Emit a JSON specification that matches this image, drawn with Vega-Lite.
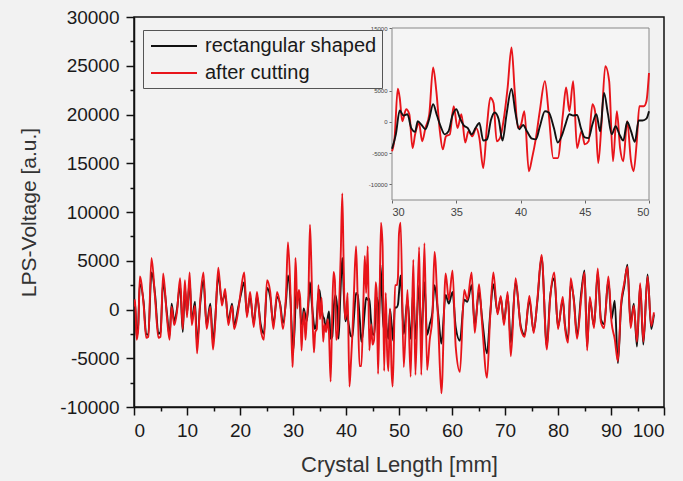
{
  "$schema": "https://vega.github.io/schema/vega-lite/v6.json",
  "autosize": {"type": "none"},
  "width": 530,
  "height": 390,
  "padding": {"left": 134, "top": 17, "right": 19, "bottom": 74},
  "background": "#f2f2f2",
  "config": {
    "view": {"stroke": "#111", "strokeWidth": 1.5},
    "font": "Liberation Sans",
    "axis": {"grid": false, "labelFont": "Liberation Sans", "titleFont": "Liberation Sans"}
  },
  "datasets": {
    "lps": [
      {"x":0.0,"s":"rectangular shaped","v":300},{"x":0.2,"s":"rectangular shaped","v":700},{"x":0.5,"s":"rectangular shaped","v":-2800},{"x":0.8,"s":"rectangular shaped","v":-1500},{"x":1.1,"s":"rectangular shaped","v":2600},{"x":1.8,"s":"rectangular shaped","v":800},{"x":2.3,"s":"rectangular shaped","v":-2500},{"x":2.7,"s":"rectangular shaped","v":-2600},{"x":3.3,"s":"rectangular shaped","v":3800},{"x":4.0,"s":"rectangular shaped","v":1400},{"x":4.6,"s":"rectangular shaped","v":-2500},{"x":5.0,"s":"rectangular shaped","v":-2300},{"x":5.5,"s":"rectangular shaped","v":2800},{"x":6.2,"s":"rectangular shaped","v":-300},{"x":6.7,"s":"rectangular shaped","v":-2700},{"x":7.1,"s":"rectangular shaped","v":600},{"x":7.6,"s":"rectangular shaped","v":-1200},{"x":8.1,"s":"rectangular shaped","v":0},{"x":8.7,"s":"rectangular shaped","v":2500},{"x":9.2,"s":"rectangular shaped","v":-2300},{"x":9.6,"s":"rectangular shaped","v":2200},{"x":10.0,"s":"rectangular shaped","v":-400},{"x":10.5,"s":"rectangular shaped","v":3000},{"x":10.9,"s":"rectangular shaped","v":-1200},{"x":11.5,"s":"rectangular shaped","v":800},{"x":11.9,"s":"rectangular shaped","v":-3500},{"x":12.5,"s":"rectangular shaped","v":600},{"x":13.1,"s":"rectangular shaped","v":3000},{"x":13.7,"s":"rectangular shaped","v":-1600},{"x":14.4,"s":"rectangular shaped","v":600},{"x":14.9,"s":"rectangular shaped","v":-3300},{"x":15.3,"s":"rectangular shaped","v":-1200},{"x":15.9,"s":"rectangular shaped","v":3500},{"x":16.6,"s":"rectangular shaped","v":800},{"x":17.2,"s":"rectangular shaped","v":1600},{"x":17.8,"s":"rectangular shaped","v":-1200},{"x":18.5,"s":"rectangular shaped","v":600},{"x":18.9,"s":"rectangular shaped","v":-1600},{"x":19.7,"s":"rectangular shaped","v":300},{"x":20.2,"s":"rectangular shaped","v":1600},{"x":20.8,"s":"rectangular shaped","v":2800},{"x":21.3,"s":"rectangular shaped","v":-500},{"x":21.9,"s":"rectangular shaped","v":1300},{"x":22.6,"s":"rectangular shaped","v":-1400},{"x":23.2,"s":"rectangular shaped","v":1400},{"x":23.9,"s":"rectangular shaped","v":-1500},{"x":24.5,"s":"rectangular shaped","v":-2500},{"x":25.1,"s":"rectangular shaped","v":2200},{"x":25.7,"s":"rectangular shaped","v":1300},{"x":26.3,"s":"rectangular shaped","v":-1500},{"x":27.0,"s":"rectangular shaped","v":1300},{"x":27.6,"s":"rectangular shaped","v":500},{"x":28.1,"s":"rectangular shaped","v":-1400},{"x":28.7,"s":"rectangular shaped","v":1000},{"x":29.05,"s":"rectangular shaped","v":3500},{"x":29.5,"s":"rectangular shaped","v":1200},{"x":29.9,"s":"rectangular shaped","v":-3500},
      {"x":30.0,"s":"rectangular shaped","v":-4300},{"x":30.3,"s":"rectangular shaped","v":-2000},{"x":30.6,"s":"rectangular shaped","v":1800},{"x":30.9,"s":"rectangular shaped","v":1000},{"x":31.2,"s":"rectangular shaped","v":1200},{"x":31.5,"s":"rectangular shaped","v":-1000},{"x":31.8,"s":"rectangular shaped","v":-1600},{"x":32.0,"s":"rectangular shaped","v":100},{"x":32.3,"s":"rectangular shaped","v":-500},{"x":32.6,"s":"rectangular shaped","v":-1200},{"x":32.9,"s":"rectangular shaped","v":500},{"x":33.2,"s":"rectangular shaped","v":2800},{"x":33.5,"s":"rectangular shaped","v":1000},{"x":33.8,"s":"rectangular shaped","v":-800},{"x":34.1,"s":"rectangular shaped","v":-2000},{"x":34.4,"s":"rectangular shaped","v":-1500},{"x":34.7,"s":"rectangular shaped","v":1000},{"x":35.0,"s":"rectangular shaped","v":2000},{"x":35.3,"s":"rectangular shaped","v":500},{"x":35.6,"s":"rectangular shaped","v":-600},{"x":35.9,"s":"rectangular shaped","v":-1000},{"x":36.2,"s":"rectangular shaped","v":-2000},{"x":36.5,"s":"rectangular shaped","v":-1000},{"x":36.8,"s":"rectangular shaped","v":-200},{"x":37.1,"s":"rectangular shaped","v":-3000},{"x":37.4,"s":"rectangular shaped","v":-2800},{"x":37.7,"s":"rectangular shaped","v":300},{"x":38.0,"s":"rectangular shaped","v":1500},{"x":38.3,"s":"rectangular shaped","v":400},{"x":38.6,"s":"rectangular shaped","v":-3000},{"x":38.9,"s":"rectangular shaped","v":1000},{"x":39.3,"s":"rectangular shaped","v":5300},{"x":39.6,"s":"rectangular shaped","v":1500},{"x":39.9,"s":"rectangular shaped","v":-1200},{"x":40.2,"s":"rectangular shaped","v":-500},{"x":40.5,"s":"rectangular shaped","v":-1500},{"x":40.9,"s":"rectangular shaped","v":-2700},{"x":41.2,"s":"rectangular shaped","v":-2800},{"x":41.5,"s":"rectangular shaped","v":-800},{"x":41.9,"s":"rectangular shaped","v":1700},{"x":42.2,"s":"rectangular shaped","v":1500},{"x":42.6,"s":"rectangular shaped","v":-1000},{"x":42.9,"s":"rectangular shaped","v":-3300},{"x":43.2,"s":"rectangular shaped","v":-2300},{"x":43.5,"s":"rectangular shaped","v":-400},{"x":43.8,"s":"rectangular shaped","v":1200},{"x":44.1,"s":"rectangular shaped","v":1000},{"x":44.4,"s":"rectangular shaped","v":1100},{"x":44.7,"s":"rectangular shaped","v":-1000},{"x":45.0,"s":"rectangular shaped","v":-2500},{"x":45.3,"s":"rectangular shaped","v":-2600},{"x":45.6,"s":"rectangular shaped","v":-400},{"x":45.9,"s":"rectangular shaped","v":1200},{"x":46.2,"s":"rectangular shaped","v":-1500},{"x":46.5,"s":"rectangular shaped","v":4600},{"x":46.8,"s":"rectangular shaped","v":1300},{"x":47.1,"s":"rectangular shaped","v":-2000},{"x":47.4,"s":"rectangular shaped","v":-700},{"x":47.7,"s":"rectangular shaped","v":-2000},{"x":48.0,"s":"rectangular shaped","v":-3000},{"x":48.3,"s":"rectangular shaped","v":0},{"x":48.6,"s":"rectangular shaped","v":-1500},{"x":48.9,"s":"rectangular shaped","v":-3200},{"x":49.2,"s":"rectangular shaped","v":200},{"x":49.5,"s":"rectangular shaped","v":200},{"x":49.8,"s":"rectangular shaped","v":500},{"x":50.0,"s":"rectangular shaped","v":1700},
      {"x":50.3,"s":"rectangular shaped","v":3500},{"x":50.9,"s":"rectangular shaped","v":-2500},{"x":51.6,"s":"rectangular shaped","v":1000},{"x":52.2,"s":"rectangular shaped","v":-3000},{"x":52.7,"s":"rectangular shaped","v":2000},{"x":53.1,"s":"rectangular shaped","v":-3000},{"x":53.8,"s":"rectangular shaped","v":2500},{"x":54.2,"s":"rectangular shaped","v":-2800},{"x":54.8,"s":"rectangular shaped","v":2800},{"x":55.3,"s":"rectangular shaped","v":-2600},{"x":55.8,"s":"rectangular shaped","v":-1500},{"x":56.3,"s":"rectangular shaped","v":-300},{"x":56.7,"s":"rectangular shaped","v":2500},{"x":57.4,"s":"rectangular shaped","v":-500},{"x":58.0,"s":"rectangular shaped","v":-3500},{"x":58.8,"s":"rectangular shaped","v":1500},{"x":59.4,"s":"rectangular shaped","v":600},{"x":60.1,"s":"rectangular shaped","v":1800},{"x":60.7,"s":"rectangular shaped","v":-1800},{"x":61.5,"s":"rectangular shaped","v":-3200},{"x":62.3,"s":"rectangular shaped","v":1000},{"x":62.9,"s":"rectangular shaped","v":800},{"x":63.7,"s":"rectangular shaped","v":2500},{"x":64.3,"s":"rectangular shaped","v":-1600},{"x":65.1,"s":"rectangular shaped","v":1800},{"x":65.7,"s":"rectangular shaped","v":-1000},{"x":66.6,"s":"rectangular shaped","v":-4500},{"x":67.2,"s":"rectangular shaped","v":-500},{"x":67.8,"s":"rectangular shaped","v":2600},{"x":68.6,"s":"rectangular shaped","v":-300},{"x":69.2,"s":"rectangular shaped","v":1200},{"x":69.8,"s":"rectangular shaped","v":-1200},{"x":70.5,"s":"rectangular shaped","v":1500},{"x":71.1,"s":"rectangular shaped","v":-3400},{"x":72.0,"s":"rectangular shaped","v":2800},{"x":73.0,"s":"rectangular shaped","v":-1800},{"x":73.7,"s":"rectangular shaped","v":-2600},{"x":74.6,"s":"rectangular shaped","v":1000},{"x":75.4,"s":"rectangular shaped","v":-2200},{"x":76.1,"s":"rectangular shaped","v":800},{"x":76.9,"s":"rectangular shaped","v":5400},{"x":77.9,"s":"rectangular shaped","v":-3800},{"x":78.5,"s":"rectangular shaped","v":1200},{"x":79.3,"s":"rectangular shaped","v":3200},{"x":80.0,"s":"rectangular shaped","v":-1800},{"x":80.9,"s":"rectangular shaped","v":1000},{"x":81.3,"s":"rectangular shaped","v":-1500},{"x":81.9,"s":"rectangular shaped","v":-3000},{"x":82.4,"s":"rectangular shaped","v":2600},{"x":83.0,"s":"rectangular shaped","v":1000},{"x":83.6,"s":"rectangular shaped","v":-2700},{"x":84.4,"s":"rectangular shaped","v":1800},{"x":85.0,"s":"rectangular shaped","v":4000},{"x":85.5,"s":"rectangular shaped","v":-3800},{"x":86.0,"s":"rectangular shaped","v":1000},{"x":86.8,"s":"rectangular shaped","v":-1700},{"x":87.5,"s":"rectangular shaped","v":3800},{"x":88.1,"s":"rectangular shaped","v":-1000},{"x":88.7,"s":"rectangular shaped","v":-1500},{"x":89.5,"s":"rectangular shaped","v":3000},{"x":90.1,"s":"rectangular shaped","v":-1000},{"x":90.7,"s":"rectangular shaped","v":900},{"x":91.3,"s":"rectangular shaped","v":-5500},{"x":91.9,"s":"rectangular shaped","v":300},{"x":92.5,"s":"rectangular shaped","v":2400},{"x":93.1,"s":"rectangular shaped","v":4600},{"x":93.7,"s":"rectangular shaped","v":-1500},{"x":94.3,"s":"rectangular shaped","v":600},{"x":94.9,"s":"rectangular shaped","v":-3800},{"x":95.5,"s":"rectangular shaped","v":2500},{"x":96.1,"s":"rectangular shaped","v":-3600},{"x":96.9,"s":"rectangular shaped","v":3600},{"x":97.6,"s":"rectangular shaped","v":-2000},{"x":98.1,"s":"rectangular shaped","v":-500},
      {"x":0.0,"s":"after cutting","v":300},{"x":0.2,"s":"after cutting","v":1000},{"x":0.5,"s":"after cutting","v":-3100},{"x":0.8,"s":"after cutting","v":-2000},{"x":1.1,"s":"after cutting","v":3400},{"x":1.8,"s":"after cutting","v":600},{"x":2.3,"s":"after cutting","v":-2900},{"x":2.7,"s":"after cutting","v":-2800},{"x":3.3,"s":"after cutting","v":5300},{"x":4.0,"s":"after cutting","v":1000},{"x":4.6,"s":"after cutting","v":-2900},{"x":5.0,"s":"after cutting","v":-2800},{"x":5.5,"s":"after cutting","v":3700},{"x":6.2,"s":"after cutting","v":-700},{"x":6.7,"s":"after cutting","v":-3100},{"x":7.1,"s":"after cutting","v":300},{"x":7.6,"s":"after cutting","v":-1600},{"x":8.1,"s":"after cutting","v":-300},{"x":8.7,"s":"after cutting","v":3200},{"x":9.2,"s":"after cutting","v":-2000},{"x":9.6,"s":"after cutting","v":3000},{"x":10.0,"s":"after cutting","v":-800},{"x":10.5,"s":"after cutting","v":3800},{"x":10.9,"s":"after cutting","v":-1600},{"x":11.5,"s":"after cutting","v":400},{"x":11.9,"s":"after cutting","v":-4500},{"x":12.5,"s":"after cutting","v":1000},{"x":13.1,"s":"after cutting","v":3800},{"x":13.7,"s":"after cutting","v":-2000},{"x":14.4,"s":"after cutting","v":300},{"x":14.9,"s":"after cutting","v":-4100},{"x":15.3,"s":"after cutting","v":-1600},{"x":15.9,"s":"after cutting","v":4300},{"x":16.6,"s":"after cutting","v":400},{"x":17.2,"s":"after cutting","v":2100},{"x":17.8,"s":"after cutting","v":-1600},{"x":18.5,"s":"after cutting","v":400},{"x":18.9,"s":"after cutting","v":-2000},{"x":19.7,"s":"after cutting","v":0},{"x":20.2,"s":"after cutting","v":2100},{"x":20.8,"s":"after cutting","v":3800},{"x":21.3,"s":"after cutting","v":-800},{"x":21.9,"s":"after cutting","v":1800},{"x":22.6,"s":"after cutting","v":-1800},{"x":23.2,"s":"after cutting","v":1800},{"x":23.9,"s":"after cutting","v":-2000},{"x":24.5,"s":"after cutting","v":-3100},{"x":25.1,"s":"after cutting","v":3000},{"x":25.7,"s":"after cutting","v":1800},{"x":26.3,"s":"after cutting","v":-2000},{"x":27.0,"s":"after cutting","v":1800},{"x":27.6,"s":"after cutting","v":300},{"x":28.1,"s":"after cutting","v":-2000},{"x":28.7,"s":"after cutting","v":1800},{"x":29.05,"s":"after cutting","v":6900},{"x":29.5,"s":"after cutting","v":2100},{"x":29.9,"s":"after cutting","v":-5900},
      {"x":30.0,"s":"after cutting","v":-4700},{"x":30.2,"s":"after cutting","v":-2600},{"x":30.45,"s":"after cutting","v":5300},{"x":30.6,"s":"after cutting","v":3850},{"x":30.8,"s":"after cutting","v":100},{"x":31.1,"s":"after cutting","v":2000},{"x":31.35,"s":"after cutting","v":1200},{"x":31.6,"s":"after cutting","v":-4200},{"x":31.8,"s":"after cutting","v":-2000},{"x":32.1,"s":"after cutting","v":-200},{"x":32.35,"s":"after cutting","v":-3100},{"x":32.6,"s":"after cutting","v":-1000},{"x":32.9,"s":"after cutting","v":1200},{"x":33.2,"s":"after cutting","v":8700},{"x":33.45,"s":"after cutting","v":4900},{"x":33.7,"s":"after cutting","v":-1000},{"x":33.95,"s":"after cutting","v":-4400},{"x":34.2,"s":"after cutting","v":-2300},{"x":34.5,"s":"after cutting","v":-2000},{"x":34.8,"s":"after cutting","v":2500},{"x":35.1,"s":"after cutting","v":-1000},{"x":35.4,"s":"after cutting","v":1200},{"x":35.7,"s":"after cutting","v":-3300},{"x":35.95,"s":"after cutting","v":-1500},{"x":36.25,"s":"after cutting","v":-2300},{"x":36.55,"s":"after cutting","v":-1000},{"x":36.8,"s":"after cutting","v":-2600},{"x":37.1,"s":"after cutting","v":-7400},{"x":37.4,"s":"after cutting","v":-400},{"x":37.65,"s":"after cutting","v":3850},{"x":37.9,"s":"after cutting","v":3000},{"x":38.15,"s":"after cutting","v":-3100},{"x":38.4,"s":"after cutting","v":-2600},{"x":38.75,"s":"after cutting","v":1200},{"x":39.0,"s":"after cutting","v":5500},{"x":39.3,"s":"after cutting","v":11900},{"x":39.55,"s":"after cutting","v":4900},{"x":39.8,"s":"after cutting","v":-1000},{"x":40.05,"s":"after cutting","v":-400},{"x":40.3,"s":"after cutting","v":1700},{"x":40.65,"s":"after cutting","v":-7900},{"x":40.9,"s":"after cutting","v":-5800},{"x":41.2,"s":"after cutting","v":-2600},{"x":41.5,"s":"after cutting","v":1700},{"x":41.9,"s":"after cutting","v":6500},{"x":42.2,"s":"after cutting","v":1200},{"x":42.55,"s":"after cutting","v":-5800},{"x":42.9,"s":"after cutting","v":-5800},{"x":43.3,"s":"after cutting","v":1200},{"x":43.55,"s":"after cutting","v":5500},{"x":43.8,"s":"after cutting","v":1700},{"x":44.1,"s":"after cutting","v":6500},{"x":44.4,"s":"after cutting","v":-4200},{"x":44.75,"s":"after cutting","v":-1500},{"x":45.0,"s":"after cutting","v":-3600},{"x":45.3,"s":"after cutting","v":-3100},{"x":45.6,"s":"after cutting","v":2800},{"x":45.8,"s":"after cutting","v":1700},{"x":46.05,"s":"after cutting","v":-6600},{"x":46.3,"s":"after cutting","v":-400},{"x":46.6,"s":"after cutting","v":8900},{"x":46.9,"s":"after cutting","v":6500},{"x":47.2,"s":"after cutting","v":-6300},{"x":47.5,"s":"after cutting","v":1700},{"x":47.75,"s":"after cutting","v":-4200},{"x":48.0,"s":"after cutting","v":-6300},{"x":48.3,"s":"after cutting","v":100},{"x":48.6,"s":"after cutting","v":-6300},{"x":48.8,"s":"after cutting","v":-7900},{"x":49.05,"s":"after cutting","v":-3100},{"x":49.25,"s":"after cutting","v":2500},{"x":49.6,"s":"after cutting","v":2500},{"x":49.8,"s":"after cutting","v":3300},{"x":50.0,"s":"after cutting","v":7800},
      {"x":50.3,"s":"after cutting","v":8900},{"x":50.9,"s":"after cutting","v":-5900},{"x":51.6,"s":"after cutting","v":2000},{"x":52.2,"s":"after cutting","v":-6900},{"x":52.7,"s":"after cutting","v":5100},{"x":53.1,"s":"after cutting","v":-6700},{"x":53.8,"s":"after cutting","v":6400},{"x":54.2,"s":"after cutting","v":-6700},{"x":54.8,"s":"after cutting","v":6800},{"x":55.3,"s":"after cutting","v":-6200},{"x":55.8,"s":"after cutting","v":-3100},{"x":56.3,"s":"after cutting","v":-800},{"x":56.7,"s":"after cutting","v":5900},{"x":57.4,"s":"after cutting","v":-1500},{"x":58.0,"s":"after cutting","v":-8600},{"x":58.8,"s":"after cutting","v":3700},{"x":59.4,"s":"after cutting","v":1000},{"x":60.1,"s":"after cutting","v":4000},{"x":60.7,"s":"after cutting","v":-3800},{"x":61.5,"s":"after cutting","v":-6400},{"x":62.3,"s":"after cutting","v":2000},{"x":62.9,"s":"after cutting","v":1000},{"x":63.7,"s":"after cutting","v":3800},{"x":64.3,"s":"after cutting","v":-2400},{"x":65.1,"s":"after cutting","v":2600},{"x":65.7,"s":"after cutting","v":-1600},{"x":66.6,"s":"after cutting","v":-7000},{"x":67.2,"s":"after cutting","v":-800},{"x":67.8,"s":"after cutting","v":3800},{"x":68.6,"s":"after cutting","v":-500},{"x":69.2,"s":"after cutting","v":1400},{"x":69.8,"s":"after cutting","v":-1600},{"x":70.5,"s":"after cutting","v":1800},{"x":71.1,"s":"after cutting","v":-4800},{"x":72.0,"s":"after cutting","v":3200},{"x":73.0,"s":"after cutting","v":-2000},{"x":73.7,"s":"after cutting","v":-2800},{"x":74.6,"s":"after cutting","v":1400},{"x":75.4,"s":"after cutting","v":-2400},{"x":76.1,"s":"after cutting","v":1000},{"x":76.9,"s":"after cutting","v":5600},{"x":77.9,"s":"after cutting","v":-4100},{"x":78.5,"s":"after cutting","v":1000},{"x":79.3,"s":"after cutting","v":3800},{"x":80.0,"s":"after cutting","v":-2000},{"x":80.9,"s":"after cutting","v":1300},{"x":81.3,"s":"after cutting","v":-1700},{"x":81.9,"s":"after cutting","v":-3400},{"x":82.4,"s":"after cutting","v":3200},{"x":83.0,"s":"after cutting","v":800},{"x":83.6,"s":"after cutting","v":-3000},{"x":84.4,"s":"after cutting","v":1300},{"x":85.0,"s":"after cutting","v":3800},{"x":85.5,"s":"after cutting","v":-4200},{"x":86.0,"s":"after cutting","v":1300},{"x":86.8,"s":"after cutting","v":-1900},{"x":87.5,"s":"after cutting","v":4200},{"x":88.1,"s":"after cutting","v":-1300},{"x":88.7,"s":"after cutting","v":-1900},{"x":89.5,"s":"after cutting","v":3400},{"x":90.1,"s":"after cutting","v":-1300},{"x":90.7,"s":"after cutting","v":-3000},{"x":91.3,"s":"after cutting","v":-5300},{"x":91.9,"s":"after cutting","v":600},{"x":92.5,"s":"after cutting","v":2700},{"x":93.1,"s":"after cutting","v":4400},{"x":93.7,"s":"after cutting","v":-1900},{"x":94.3,"s":"after cutting","v":400},{"x":94.9,"s":"after cutting","v":-3300},{"x":95.5,"s":"after cutting","v":2700},{"x":96.1,"s":"after cutting","v":-3300},{"x":96.9,"s":"after cutting","v":3400},{"x":97.6,"s":"after cutting","v":-1700},{"x":98.1,"s":"after cutting","v":-300}
    ],
    "box": [{}]
  },
  "layer": [
    {
      "data": {"name": "lps"},
      "mark": {"type": "line", "strokeWidth": 1.9, "clip": true, "interpolate": "monotone"},
      "encoding": {
        "x": {"field": "x", "type": "quantitative", "scale": {"domain": [0, 100], "nice": false},
          "axis": {"orient": "bottom", "title": "Crystal Length [mm]", "values": [0,5,10,15,20,25,30,35,40,45,50,55,60,65,70,75,80,85,90,95,100],
            "labelExpr": "datum.value % 10 === 0 ? '' + datum.value : ''", "labelFontSize": 19, "labelColor": "#1a1a1a", "labelPadding": 6,
            "tickSize": {"condition": {"test": "datum.value % 10 === 0", "value": 8}, "value": 4},
            "tickColor": "#111", "tickWidth": 1.5, "domainColor": "#111", "domainWidth": 1.5,
            "titleFontSize": 22, "titleFontWeight": "normal", "titleColor": "#333", "titlePadding": 14}},
        "y": {"field": "v", "type": "quantitative", "scale": {"domain": [-10000, 30000], "nice": false},
          "axis": {"orient": "left", "title": "LPS-Voltage [a.u.]", "values": [-10000,-7500,-5000,-2500,0,2500,5000,7500,10000,12500,15000,17500,20000,22500,25000,27500,30000],
            "labelExpr": "datum.value % 5000 === 0 ? '' + datum.value : ''", "labelFontSize": 19, "labelColor": "#1a1a1a", "labelPadding": 7,
            "tickSize": {"condition": {"test": "datum.value % 5000 === 0", "value": 8}, "value": 4},
            "tickColor": "#111", "tickWidth": 1.5, "domainColor": "#111", "domainWidth": 1.5,
            "titleFontSize": 21, "titleFontWeight": "normal", "titleColor": "#333", "titlePadding": 20}},
        "color": {"field": "s", "type": "nominal",
          "scale": {"domain": ["rectangular shaped", "after cutting"], "range": ["#111111", "#e8141a"]},
          "legend": {"title": null, "orient": "none", "legendX": 9, "legendY": 13, "symbolType": "M-2.3,0H2.3", "symbolSize": 400, "symbolStrokeWidth": 2,
            "symbolOffset": 15, "labelFontSize": 20, "labelColor": "#1a1a1a", "labelOffset": 20, "labelLimit": 400, "rowPadding": 6, "padding": 5,
            "strokeColor": "#555", "fillColor": "#f2f2f2"}}
      }
    },
    {
      "layer": [
        {
          "data": {"name": "box"},
          "mark": {"type": "rect", "fill": "#f5f5f5", "stroke": "#888", "strokeWidth": 1},
          "encoding": {
            "x": {"datum": 30, "type": "quantitative",
              "scale": {"domain": [30, 50], "nice": false, "range": [258, 515]},
              "axis": {"orient": "bottom", "offset": -207, "title": null, "values": [30,35,40,45,50], "labelFontSize": 11, "labelColor": "#444",
                "domain": false, "tickSize": 3, "tickColor": "#666", "labelPadding": 3}},
            "x2": {"datum": 50},
            "y": {"datum": -12500, "type": "quantitative",
              "scale": {"domain": [-12500, 15000], "nice": false, "range": [183, 11]},
              "axis": {"orient": "left", "offset": -258, "title": null, "values": [-10000,-5000,0,5000,15000], "labelExpr": "'' + datum.value", "labelFontSize": 6, "labelColor": "#444",
                "domain": false, "tickSize": 3, "tickColor": "#666", "labelPadding": 2}},
            "y2": {"datum": 15000}
          }
        },
        {
          "data": {"name": "lps"},
          "transform": [{"filter": "datum.s === 'after cutting' && datum.x >= 30 && datum.x <= 50"}],
          "mark": {"type": "line", "color": "#e8141a", "strokeWidth": 1.9, "interpolate": "monotone"},
          "encoding": {
            "x": {"field": "x", "type": "quantitative"},
            "y": {"field": "v", "type": "quantitative"}
          }
        },
        {
          "data": {"name": "lps"},
          "transform": [{"filter": "datum.s === 'rectangular shaped' && datum.x >= 30 && datum.x <= 50"}],
          "mark": {"type": "line", "color": "#111111", "strokeWidth": 1.9, "interpolate": "monotone"},
          "encoding": {
            "x": {"field": "x", "type": "quantitative"},
            "y": {"field": "v", "type": "quantitative"}
          }
        }
      ]
    }
  ],
  "resolve": {"scale": {"x": "independent", "y": "independent"}}
}
